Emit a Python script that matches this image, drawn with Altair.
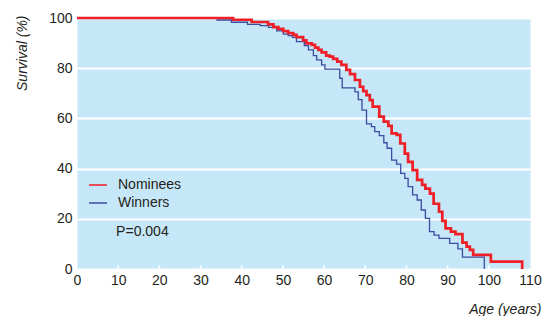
import altair as alt
import pandas as pd

# Nominees (red) Kaplan-Meier steps: age (years), survival (%)
ages_nom = [0, 37.9, 42.4, 46.4, 47.7, 48.9, 50.1, 51.3, 52.5, 53.3, 54.9, 55.7, 57.0, 57.8,
            58.6, 59.4, 60.5, 61.4, 62.2, 63.2, 64.2, 65.4, 66.3, 67.5, 68.7, 69.5, 70.3,
            71.1, 71.8, 73.4, 74.5, 75.6, 76.4, 77.6, 78.5, 79.6, 80.4, 81.5, 82.6, 83.8,
            84.6, 85.7, 86.6, 87.9, 88.7, 89.5, 90.8, 91.9, 93.6, 94.6, 95.4, 96.2, 100.5, 108.1]
surv_nom = [100, 99.3, 98.4, 97.5, 96.4, 95.7, 94.8, 94.0, 93.3, 92.4, 91.1, 89.9, 89.3, 88.2,
            87.3, 86.3, 85.0, 84.6, 83.7, 82.6, 81.3, 79.3, 77.6, 75.3, 72.6, 70.9, 69.3,
            67.3, 64.7, 60.7, 58.7, 57.0, 54.0, 53.4, 50.0, 46.0, 42.7, 39.4, 35.5, 33.5,
            32.0, 30.0, 26.0, 22.8, 19.2, 16.2, 14.9, 13.9, 10.5, 8.9, 7.6, 5.6, 2.9, 0]

# Winners (blue) Kaplan-Meier steps
ages_win = [0, 34.0, 37.5, 41.4, 44.5, 46.5, 48.5, 50.1, 51.3, 52.3, 53.3, 55.2, 56.2, 57.4,
            58.2, 59.4, 60.2, 63.8, 64.4, 67.5, 68.3, 69.2, 70.3, 71.5, 72.3, 73.4, 74.5,
            75.3, 76.4, 77.6, 78.6, 79.6, 80.4, 81.5, 82.6, 83.6, 84.6, 85.6, 86.7, 87.9,
            90.5, 92.5, 93.6, 98.9]
surv_win = [100, 99.2, 98.3, 97.5, 97.0, 96.3, 94.9, 93.6, 93.0, 92.3, 90.6, 89.0, 87.3, 85.0,
            83.3, 81.3, 79.6, 76.0, 72.2, 70.6, 67.5, 63.3, 57.8, 56.7, 54.7, 53.1, 50.3,
            48.1, 43.4, 41.8, 38.1, 36.1, 32.8, 29.5, 27.5, 23.5, 20.2, 14.9, 13.5, 12.2,
            10.2, 8.0, 4.7, 0]

series_names = ["Nominees", "Winners"]
series_colors = ["#ee1f26", "#3b4ca3"]
x_ticks = [0, 10, 20, 30, 40, 50, 60, 70, 80, 90, 100, 110]
y_ticks = [0, 20, 40, 60, 80, 100]
inner_ticks = [10, 20, 30, 40, 50, 60, 70, 80, 90, 100]
p_label = "P=0.004"

df = pd.concat([
    pd.DataFrame({"series": "Nominees", "age": ages_nom, "surv": surv_nom}),
    pd.DataFrame({"series": "Winners", "age": ages_win, "surv": surv_win}),
], ignore_index=True)

FONT = "Liberation Sans"

xscale = alt.Scale(domain=[0, 110], nice=False, zero=False)
yscale = alt.Scale(domain=[0, 100], nice=False)

color = alt.Color(
    "series:N",
    scale=alt.Scale(domain=series_names, range=series_colors),
    legend=alt.Legend(
        title=None, orient="none", legendX=11, legendY=157,
        symbolType="stroke", symbolSize=324, symbolStrokeWidth=1.5,
        labelFontSize=14, labelFont=FONT, labelColor="#231f20",
        labelOffset=10, rowPadding=1, padding=0,
    ),
)

xax = alt.Axis(values=x_ticks, ticks=False, domain=False, grid=False, labelFlush=False,
               labelFontSize=14, labelFont=FONT, labelColor="#231f20", labelPadding=4,
               title="Age (years)", titleFont=FONT, titleFontSize=14, titleFontStyle="italic",
               titleFontWeight="normal", titleColor="#231f20",
               titleX=464, titleY=40, titleAlign="right", titleBaseline="middle")
yax = alt.Axis(values=y_ticks, ticks=False, domain=False, grid=True,
               gridColor="white", gridWidth=1.8,
               labelFontSize=14, labelFont=FONT, labelColor="#231f20", labelPadding=5,
               title="Survival (%)", titleFont=FONT, titleFontSize=14, titleFontStyle="italic",
               titleFontWeight="normal", titleColor="#231f20",
               titleAngle=270, titleX=-55, titleY=-3, titleAlign="right", titleBaseline="middle")

win = alt.Chart(df).transform_filter(alt.datum.series == "Winners").mark_line(
    interpolate="step-after", strokeWidth=1.3, clip=False
).encode(x=alt.X("age:Q", scale=xscale, axis=xax),
         y=alt.Y("surv:Q", scale=yscale, axis=yax),
         color=color)

nom = alt.Chart(df).transform_filter(alt.datum.series == "Nominees").mark_line(
    interpolate="step-after", strokeWidth=2.7, clip=False
).encode(x=alt.X("age:Q", scale=xscale, axis=xax),
         y=alt.Y("surv:Q", scale=yscale, axis=yax),
         color=color)

ticks = alt.Chart(pd.DataFrame({"t": inner_ticks})).mark_rule(color="white", strokeWidth=1.6).encode(
    x=alt.X("t:Q", scale=xscale, axis=xax),
    y=alt.datum(0, scale=yscale),
    y2=alt.datum(1.5),
)

ptext = alt.Chart(pd.DataFrame({"label": [p_label], "x": [9.5], "y": [14.6]})).mark_text(
    align="left", baseline="middle", fontSize=14, font=FONT, color="#231f20"
).encode(x=alt.X("x:Q", scale=xscale, axis=xax), y=alt.Y("y:Q", scale=yscale, axis=yax),
         text="label:N")

chart = alt.layer(ticks, win, nom, ptext).properties(
    width=453, height=251,
    background="white",
    autosize=alt.AutoSizeParams(type="none"),
    padding={"left": 69, "top": 10, "right": 12, "bottom": 47},
).configure_view(fill="#c6e7f7", stroke="transparent")

chart.save("out.html", embed_options={"renderer": "svg", "actions": False})
